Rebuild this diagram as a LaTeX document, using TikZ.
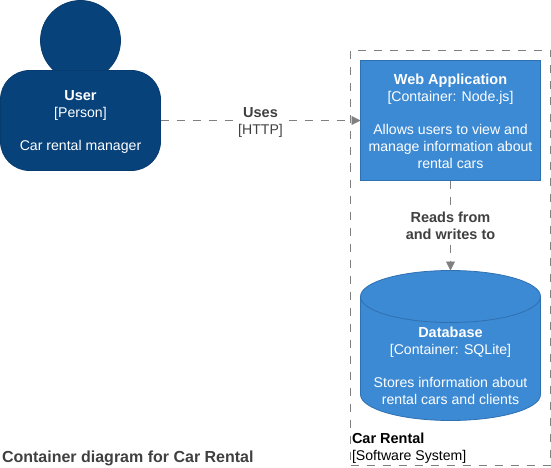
\documentclass[tikz,border=0pt]{standalone}
\usepackage{fontspec}
\setmainfont{Liberation Sans}
\usetikzlibrary{arrows.meta}
\definecolor{persF}{HTML}{08427B}
\definecolor{persD}{HTML}{073B6F}
\definecolor{contF}{HTML}{3C8AD4}
\definecolor{contD}{HTML}{2F70B0}
\definecolor{lineG}{HTML}{808080}
\definecolor{txtG}{HTML}{404040}
\newcommand{\hd}[1]{{\fontsize{14.5}{17}\selectfont\bfseries #1}}
\tikzset{
  every node/.style={inner sep=0pt,outer sep=0pt,font=\fontsize{14.1}{17}\selectfont},
  person/.style={draw=persD,fill=persF,line width=.8pt},
  cont/.style={draw=contD,fill=contF,line width=.8pt},
  inbox/.style={text=white,align=center},
  rel/.style={draw=lineG,line width=.8pt,dash pattern=on 8pt off 8pt,-{Triangle[length=9pt,width=9pt,fill=lineG]}},
  rellabel/.style={fill=white,align=center,text=txtG,inner xsep=1pt,inner ysep=1pt},
  boundary/.style={draw=lineG,line width=.8pt,dash pattern=on 8pt off 8pt},
}
\begin{document}
\begin{tikzpicture}[x=1pt,y=-1pt]
\useasboundingbox (0,0) rectangle (551,468);
\node[boundary,minimum width=200pt,minimum height=415pt,anchor=north west] (sys) at (350.5,50.5) {};
\node[person,circle,minimum size=80pt] (head) at (80.5,40.5) {};
\node[person,rounded corners=29pt,minimum width=160pt,minimum height=100pt,anchor=north west] (user) at (0.5,70.5) {};
\node[inbox] (usert) at (80.5,121.5) {\hd{User}\\{[Person]}\\[16pt]Car rental manager};
\node[cont,minimum width=180pt,minimum height=120pt,anchor=north west] (web) at (360.5,60.5) {};
\node[inbox] (webt) at (450.5,121) {\hd{Web Application}\\{[Container: Node.js]}\\[16pt]Allows users to view and\\manage information about\\rental cars};
\node[minimum width=180pt,minimum height=150pt,anchor=north west] (db) at (360.5,270.5) {};
\draw[cont] (db.north west) ++(0,26) arc[start angle=180,end angle=0,x radius=90,y radius=-26]
  -- ++(0,98) arc[start angle=0,end angle=-180,x radius=90,y radius=-26] -- cycle;
\draw[draw=contD,line width=.8pt] (db.north west) ++(0,26) arc[start angle=180,end angle=360,x radius=90,y radius=-26];
\node[inbox] (dbt) at (450.5,365.5) {\hd{Database}\\{[Container: SQLite]}\\[16pt]Stores information about\\rental cars and clients};
\draw[rel] (user.east) -- (web.west);
\draw[rel] (web.south) -- (db.north);
\node[rellabel] (uses) at (260.5,122) {\hd{Uses}\\{[HTTP]}};
\node[rellabel] (reads) at (450.5,225.5) {\hd{Reads from}\\\hd{and writes to}};
\node[anchor=north west,align=left] (syst) at (352,433) {\hd{Car Rental}\\{[Software System]}};
\node[anchor=west,text=txtG,font=\fontsize{16}{17}\selectfont\bfseries] (title) at (2,458.5) {Container diagram for Car Rental};
\end{tikzpicture}
\end{document}
